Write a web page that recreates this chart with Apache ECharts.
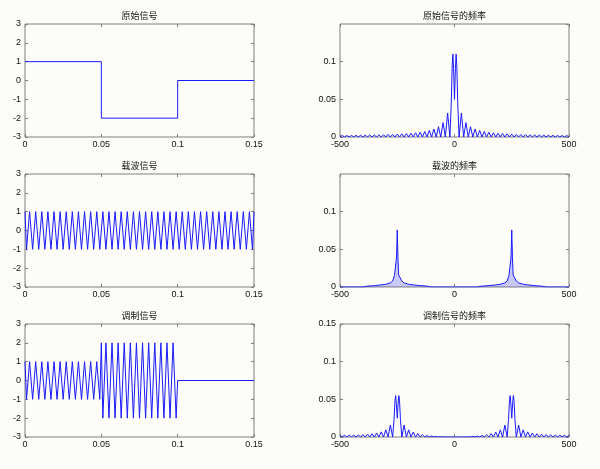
<!DOCTYPE html>
<html>
<head>
<meta charset="utf-8">
<script src="https://cdn.jsdelivr.net/npm/echarts@6/dist/echarts.min.js"></script>
<style>
  html, body { margin: 0; padding: 0; background: #fcfcf8; }
  #chart { width: 600px; height: 469px; }
</style>
</head>
<body>
<div id="chart"></div>
<script>
// 原始信号 (time in ms)
const origT = [0, 50, 50, 100, 100, 150];
const origY = [1, 1, -2, -2, 0, 0];

// 载波信号: extrema of the 250 Hz carrier, time in ms
const carrierT = [0,
  1, 3, 5, 7, 9, 11, 13, 15, 17, 19,
  21, 23, 25, 27, 29, 31, 33, 35, 37, 39,
  41, 43, 45, 47, 49, 51, 53, 55, 57, 59,
  61, 63, 65, 67, 69, 71, 73, 75, 77, 79,
  81, 83, 85, 87, 89, 91, 93, 95, 97, 99,
  101, 103, 105, 107, 109, 111, 113, 115, 117, 119,
  121, 123, 125, 127, 129, 131, 133, 135, 137, 139,
  141, 143, 145, 147, 149,
  150];
const carrierY = [1,
  -1, 1, -1, 1, -1, 1, -1, 1, -1, 1,
  -1, 1, -1, 1, -1, 1, -1, 1, -1, 1,
  -1, 1, -1, 1, -1, 1, -1, 1, -1, 1,
  -1, 1, -1, 1, -1, 1, -1, 1, -1, 1,
  -1, 1, -1, 1, -1, 1, -1, 1, -1, 1,
  -1, 1, -1, 1, -1, 1, -1, 1, -1, 1,
  -1, 1, -1, 1, -1, 1, -1, 1, -1, 1,
  -1, 1, -1, 1, -1,
  1];

// 调制信号, time in ms
const modT = [0,
  1, 3, 5, 7, 9, 11, 13, 15, 17, 19, 21, 23, 25, 27, 29, 31, 33, 35, 37, 39, 41, 43, 45, 47, 49,
  50,
  51, 53, 55, 57, 59, 61, 63, 65, 67, 69, 71, 73, 75, 77, 79, 81, 83, 85, 87, 89, 91, 93, 95, 97, 99,
  100, 150];
const modY = [1,
  -1, 1, -1, 1, -1, 1, -1, 1, -1, 1, -1, 1, -1, 1, -1, 1, -1, 1, -1, 1, -1, 1, -1, 1, -1,
  2,
  -2, 2, -2, 2, -2, 2, -2, 2, -2, 2, -2, 2, -2, 2, -2, 2, -2, 2, -2, 2, -2, 2, -2, 2, -2,
  0, 0];

// 原始信号的频率 (Hz, magnitude)
const origSpecF = [-500, -490, -480, -470, -460, -450, -440, -430, -420, -410,
  -400, -390, -380, -370, -360, -350, -340, -330, -320, -310,
  -300, -290, -280, -270, -260, -250, -240, -230, -220, -210,
  -200, -190, -180, -170, -160, -150, -140, -130, -120, -110,
  -100, -90, -80, -70, -60, -50, -40, -30, -20,
  -14, -10, -7, -4, 0, 4, 7, 10, 14,
  20, 30, 40, 50, 60, 70, 80, 90, 100,
  110, 120, 130, 140, 150, 160, 170, 180, 190, 200,
  210, 220, 230, 240, 250, 260, 270, 280, 290, 300,
  310, 320, 330, 340, 350, 360, 370, 380, 390, 400,
  410, 420, 430, 440, 450, 460, 470, 480, 490, 500];
const origSpecY = [0, 0.002, 0, 0.002, 0, 0.0021, 0, 0.0022, 0, 0.0023,
  0, 0.0025, 0, 0.0026, 0, 0.0027, 0, 0.0029, 0, 0.0031,
  0, 0.0033, 0, 0.0035, 0, 0.0038, 0, 0.0042, 0, 0.0046,
  0, 0.005, 0, 0.0056, 0, 0.0064, 0, 0.0074, 0, 0.0087,
  0, 0.0106, 0, 0.0136, 0, 0.0191, 0, 0.0318, 0,
  0.046, 0.0955, 0.11, 0.0907, 0.05, 0.0907, 0.11, 0.0955, 0.046,
  0, 0.0318, 0, 0.0191, 0, 0.0136, 0, 0.0106, 0,
  0.0087, 0, 0.0074, 0, 0.0064, 0, 0.0056, 0, 0.005, 0,
  0.0046, 0, 0.0042, 0, 0.0038, 0, 0.0035, 0, 0.0033, 0,
  0.0031, 0, 0.0029, 0, 0.0027, 0, 0.0026, 0, 0.0025, 0,
  0.0023, 0, 0.0022, 0, 0.0021, 0, 0.002, 0, 0.002, 0];

// 载波的频率: envelope of the dense side lobes
const carrierSpecF = [-500, -400, -380, -350, -320, -300, -280, -270, -262, -256, -253,
  -250, -247, -244, -238, -230, -220, -200, -180, -150, -120, -100,
  0,
  100, 120, 150, 180, 200, 220, 230, 238, 244, 247,
  250, 253, 256, 262, 270, 280, 300, 320, 350, 380, 400, 500];
const carrierSpecY = [0, 0, 0.0012, 0.0018, 0.0028, 0.0036, 0.0055, 0.008, 0.0155, 0.016, 0.04,
  0.0758, 0.04, 0.016, 0.0155, 0.008, 0.0055, 0.0036, 0.0028, 0.0018, 0.0012, 0,
  0,
  0, 0.0012, 0.0018, 0.0028, 0.0036, 0.0055, 0.008, 0.0155, 0.016, 0.04,
  0.0758, 0.04, 0.016, 0.0155, 0.008, 0.0055, 0.0036, 0.0028, 0.0018, 0.0012, 0, 0];

// 调制信号的频率
const modSpecF = [-500, -490, -480, -470, -460, -450, -440, -430, -420, -410,
  -400, -390, -380, -370, -360, -350, -340, -330, -320, -310,
  -300, -290, -280, -270,
  -264, -260, -257, -254, -250, -246, -243, -240, -236,
  -230, -220, -210, -200, -190, -180, -170, -160, -150, -140,
  -130, -120, -110, -100, -90, -80, -70, -60, -50,
  0,
  50, 60, 70, 80, 90, 100, 110, 120, 130, 140,
  150, 160, 170, 180, 190, 200, 210, 220, 230,
  236, 240, 243, 246, 250, 254, 257, 260, 264,
  270, 280, 290, 300, 310, 320, 330, 340, 350, 360,
  370, 380, 390, 400, 410, 420, 430, 440, 450, 460,
  470, 480, 490, 500];
const modSpecY = [0.0022, 0, 0.0023, 0, 0.0024, 0, 0.0025, 0, 0.0028, 0,
  0.0032, 0, 0.0037, 0, 0.0043, 0, 0.0053, 0, 0.0068, 0,
  0.0095, 0, 0.0159, 0,
  0.023, 0.048, 0.055, 0.045, 0.025, 0.045, 0.055, 0.048, 0.023,
  0, 0.0159, 0, 0.0095, 0, 0.0065, 0, 0.0045, 0, 0.003,
  0, 0.002, 0, 0.0013, 0, 0.0008, 0, 0.0004, 0,
  0,
  0, 0.0004, 0, 0.0008, 0, 0.0013, 0, 0.002, 0, 0.003,
  0, 0.0045, 0, 0.0065, 0, 0.0095, 0, 0.0159, 0,
  0.023, 0.048, 0.055, 0.045, 0.025, 0.045, 0.055, 0.048, 0.023,
  0, 0.0159, 0, 0.0095, 0, 0.0068, 0, 0.0053, 0, 0.0043,
  0, 0.0037, 0, 0.0032, 0, 0.0028, 0, 0.0025, 0, 0.0024,
  0, 0.0023, 0, 0.0022];

const FONT = "'Liberation Sans Narrow', 'Liberation Sans', Arial, sans-serif";
const CJK = "'Noto Sans CJK SC', sans-serif";
const AXIS = '#808080';
const BLUE = '#1a1aff';
const W = 229, H = 113;

const panels = [
  { title: '原始信号', left: 25, top: 24, time: true, xs: origT, ys: origY },
  { title: '原始信号的频率', left: 340, top: 24, time: false, xs: origSpecF, ys: origSpecY, hideTop: true },
  { title: '载波信号', left: 25, top: 174, time: true, xs: carrierT, ys: carrierY },
  { title: '载波的频率', left: 340, top: 174, time: false, xs: carrierSpecF, ys: carrierSpecY, hideTop: true, fill: true },
  { title: '调制信号', left: 25, top: 324, time: true, xs: modT, ys: modY },
  { title: '调制信号的频率', left: 340, top: 324, time: false, xs: modSpecF, ys: modSpecY }
];

const grid = [], xAxis = [], yAxis = [], series = [], graphic = [];

panels.forEach((p, i) => {
  grid.push({ left: p.left, top: p.top, width: W, height: H, show: true,
    borderColor: AXIS, borderWidth: 1, backgroundColor: 'transparent' });

  const xr = p.time ? { min: 0, max: 150, interval: 50 } : { min: -500, max: 500, interval: 500 };
  const yr = p.time ? { min: -3, max: 3, interval: 1 } : { min: 0, max: 0.15, interval: 0.05 };
  const tick = { show: true, inside: true, length: 3, lineStyle: { color: AXIS } };
  const line = { show: false, onZero: false };
  const label = { fontSize: 9, fontFamily: FONT, color: '#111' };

  xAxis.push({ type: 'value', gridIndex: i, position: 'bottom', ...xr,
    axisLine: line, axisTick: tick, splitLine: { show: false },
    axisLabel: { ...label, margin: 3,
      formatter: p.time ? v => String(v / 1000) : v => String(v) } });
  xAxis.push({ type: 'value', gridIndex: i, position: 'top', ...xr,
    axisLine: line, axisTick: tick, splitLine: { show: false },
    axisLabel: { show: false } });

  yAxis.push({ type: 'value', gridIndex: i, position: 'left', ...yr,
    axisLine: line, axisTick: tick, splitLine: { show: false },
    axisLabel: { ...label, margin: 4, showMaxLabel: !p.hideTop,
      formatter: v => String(+v.toFixed(2)) } });
  yAxis.push({ type: 'value', gridIndex: i, position: 'right', ...yr,
    axisLine: line, axisTick: tick, splitLine: { show: false },
    axisLabel: { show: false } });

  const s = {
    type: 'line', xAxisIndex: 2 * i, yAxisIndex: 2 * i,
    data: p.xs.map((x, k) => [x, p.ys[k]]),
    showSymbol: false, silent: true,
    lineStyle: { width: 1, color: BLUE }, itemStyle: { color: BLUE }
  };
  if (p.fill) s.areaStyle = { color: 'rgba(40,40,255,0.35)' };
  series.push(s);

  graphic.push({ type: 'text', x: p.left + W / 2, y: p.top - 8,
    style: { text: p.title, font: '9px ' + CJK, fill: '#111',
      align: 'center', verticalAlign: 'middle',
      textAlign: 'center', textVerticalAlign: 'middle' } });
});

const chart = echarts.init(document.getElementById('chart'));
chart.setOption({
  backgroundColor: '#fcfcf8',
  animation: false,
  grid, xAxis, yAxis, series, graphic
});
</script>
</body>
</html>
